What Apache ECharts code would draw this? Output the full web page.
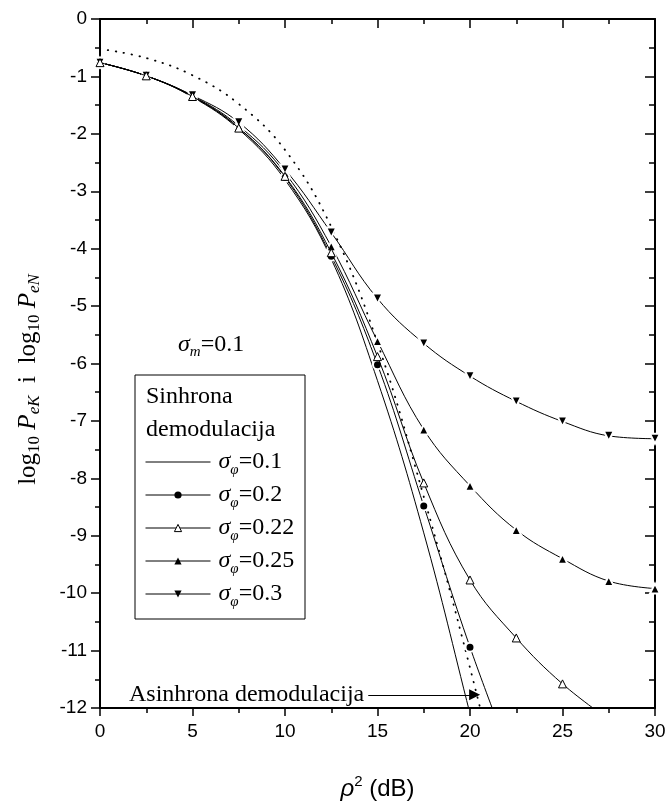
<!DOCTYPE html>
<html>
<head>
<meta charset="utf-8">
<script src="https://cdn.jsdelivr.net/npm/echarts@6/dist/echarts.min.js"></script>
<style>
  html, body { margin: 0; padding: 0; background: #fff; }
  #chart { width: 669px; height: 803px; }
</style>
</head>
<body>
<div id="chart"></div>
<script>
// rho^2 (dB)
const xValues = [0, 2.5, 5, 7.5, 10, 12.5, 15, 17.5, 20, 22.5, 25, 27.5, 30]

// log10 PeK, sinhrona demodulacija
const sigma01 = [-0.76, -0.99, -1.36, -1.92, -2.80, -4.18, -6.30, -8.95, -12.1, -15.3]
const sigma02 = [-0.76, -0.99, -1.35, -1.89, -2.76, -4.13, -6.02, -8.48, -10.94, -13.1]
const sigma022 = [-0.76, -0.99, -1.35, -1.90, -2.74, -4.07, -5.88, -8.08, -9.77, -10.78, -11.58, -12.2]
const sigma025 = [-0.76, -0.99, -1.34, -1.86, -2.68, -3.96, -5.61, -7.15, -8.13, -8.90, -9.40, -9.79, -9.92]
const sigma03 = [-0.76, -0.99, -1.33, -1.80, -2.62, -3.72, -4.87, -5.65, -6.22, -6.66, -7.01, -7.26, -7.31]

// log10 PeN, asinhrona demodulacija
const asinhrona = [-0.52, -0.68, -0.98, -1.48, -2.28, -3.62, -5.64, -8.32, -11.3, -14.6]

const yMin = -12

const serif = 'Liberation Serif'
const sans = 'Liberation Sans'

// points below the axis get no marker
function toPairs(values) {
  return values.map((v, i) =>
    v < yMin ? { value: [xValues[i], v], symbol: 'none' } : [xValues[i], v]
  )
}

const chart = echarts.init(document.getElementById('chart'))

const axisLine = { onZero: false, lineStyle: { color: '#000', width: 2 } }

const sub = { fontFamily: serif, fontStyle: 'italic', fontSize: 15, lineHeight: 12, verticalAlign: 'bottom', color: '#000' }

function lineSeries(name, values, symbol, extra) {
  return Object.assign({
    name: name,
    type: 'line',
    smooth: 0.4,
    data: toPairs(values),
    symbol: symbol,
    symbolSize: 9,
    showAllSymbol: true,
    lineStyle: { color: '#000', width: 1 },
    itemStyle: { color: '#000', borderColor: '#fff', borderWidth: 2 },
    emphasis: { disabled: true },
    z: 3
  }, extra || {})
}

const filledIcon = { color: '#000', borderWidth: 0 }

const options = {
  animation: false,
  backgroundColor: '#fff',
  grid: {
    left: 100,
    right: 14,
    top: 19,
    bottom: 95,
    outerBoundsMode: 'none'
  },
  xAxis: [
    {
      type: 'value',
      position: 'bottom',
      min: 0,
      max: 30,
      interval: 5,
      axisLine: axisLine,
      axisTick: { length: 8, lineStyle: { color: '#000', width: 1.5 } },
      minorTick: { show: true, splitNumber: 2, length: 5, lineStyle: { color: '#000', width: 1.5 } },
      splitLine: { show: false },
      axisLabel: { color: '#000', fontFamily: sans, fontSize: 19, margin: 14 },
      name: '{r|ρ}{sup|2}{t| (dB)}',
      nameLocation: 'middle',
      nameGap: 66,
      nameTextStyle: {
        rich: {
          r: { fontFamily: sans, fontStyle: 'italic', fontSize: 24, lineHeight: 30, color: '#000' },
          sup: { fontFamily: sans, fontSize: 15, lineHeight: 12, verticalAlign: 'top', color: '#000' },
          t: { fontFamily: sans, fontSize: 24, lineHeight: 30, color: '#000' }
        }
      }
    },
    {
      type: 'value',
      position: 'top',
      min: 0,
      max: 30,
      interval: 5,
      axisLine: axisLine,
      axisTick: { inside: true, length: 9, lineStyle: { color: '#000', width: 1.5 } },
      minorTick: { show: true, splitNumber: 2, length: 5, lineStyle: { color: '#000', width: 1.5 } },
      splitLine: { show: false },
      axisLabel: { show: false }
    }
  ],
  yAxis: [
    {
      type: 'value',
      position: 'left',
      min: -12,
      max: 0,
      interval: 1,
      axisLine: axisLine,
      axisTick: { length: 9, lineStyle: { color: '#000', width: 1.5 } },
      minorTick: { show: true, splitNumber: 2, length: 5, lineStyle: { color: '#000', width: 1.5 } },
      splitLine: { show: false },
      axisLabel: { color: '#000', fontFamily: sans, fontSize: 19, margin: 13 },
      name: '{n|log}{s|10}{n| }{p|P}{si|eK}{n|  i  log}{s|10}{n| }{p|P}{si|eN}',
      nameLocation: 'middle',
      nameGap: 57,
      nameTextStyle: {
        padding: [0, 32, 0, 0],
        rich: {
          n: { fontFamily: serif, fontSize: 25, lineHeight: 30, color: '#000' },
          p: { fontFamily: serif, fontStyle: 'italic', fontSize: 25, lineHeight: 30, color: '#000' },
          s: { fontFamily: serif, fontSize: 17, lineHeight: 10, verticalAlign: 'bottom', color: '#000' },
          si: { fontFamily: serif, fontStyle: 'italic', fontSize: 17, lineHeight: 10, verticalAlign: 'bottom', color: '#000' }
        }
      }
    },
    {
      type: 'value',
      position: 'right',
      min: -12,
      max: 0,
      interval: 1,
      axisLine: axisLine,
      axisTick: { inside: true, length: 10, lineStyle: { color: '#000', width: 1.5 } },
      minorTick: { show: true, splitNumber: 2, length: 6, lineStyle: { color: '#000', width: 1.5 } },
      splitLine: { show: false },
      axisLabel: { show: false }
    }
  ],
  legend: {
    orient: 'vertical',
    left: 145,
    top: 450,
    padding: 0,
    itemGap: 5,
    itemWidth: 65,
    itemHeight: 9,
    selectedMode: false,
    z: 20,
    lineStyle: { width: 1 },
    data: [
      { name: '0.1', itemStyle: { color: 'rgba(0,0,0,0)', borderWidth: 0 } },
      { name: '0.2', itemStyle: filledIcon },
      { name: '0.22', itemStyle: { color: '#fff', borderColor: '#000', borderWidth: 1 } },
      { name: '0.25', itemStyle: filledIcon },
      { name: '0.3', itemStyle: filledIcon }
    ],
    formatter: (name) => `{g|σ}{s|φ}{n|=${name}}`,
    textStyle: {
      color: '#000',
      rich: {
        g: { fontFamily: serif, fontStyle: 'italic', fontSize: 24, lineHeight: 32, padding: [0, 0, 0, 3], color: '#000' },
        s: sub,
        n: { fontFamily: serif, fontSize: 24, lineHeight: 32, color: '#000' }
      }
    }
  },
  graphic: [
    {
      type: 'rect',
      shape: { x: 135, y: 375, width: 170, height: 244 },
      style: { fill: '#fff', stroke: '#000', lineWidth: 1 },
      z: 10
    },
    {
      type: 'text',
      x: 146,
      y: 397,
      style: { text: 'Sinhrona', font: '24px "Liberation Serif"', fill: '#000', verticalAlign: 'middle' },
      z: 11
    },
    {
      type: 'text',
      x: 146,
      y: 430,
      style: { text: 'demodulacija', font: '24px "Liberation Serif"', fill: '#000', verticalAlign: 'middle' },
      z: 11
    },
    {
      type: 'text',
      x: 178,
      y: 345,
      style: {
        text: '{g|σ}{s|m}{n|=0.1}',
        verticalAlign: 'middle',
        rich: {
          g: { fontFamily: serif, fontStyle: 'italic', fontSize: 24, lineHeight: 30, fill: '#000' },
          s: { fontFamily: serif, fontStyle: 'italic', fontSize: 15, lineHeight: 12, verticalAlign: 'bottom', fill: '#000' },
          n: { fontFamily: serif, fontSize: 24, lineHeight: 30, fill: '#000' }
        }
      },
      z: 11
    }
  ],
  series: [
    {
      name: 'Asinhrona',
      type: 'line',
      smooth: 0.4,
      data: toPairs(asinhrona),
      symbol: 'none',
      lineStyle: { color: '#000', width: 1.8, type: [0.5, 7.5], cap: 'round' },
      emphasis: { disabled: true },
      markLine: {
        silent: true,
        symbol: ['none', 'triangle'],
        symbolSize: 11,
        lineStyle: { color: '#000', width: 1, type: 'solid', cap: 'butt' },
        itemStyle: { color: '#000' },
        label: {
          show: true,
          position: 'start',
          distance: 4,
          formatter: 'Asinhrona demodulacija',
          color: '#000',
          fontFamily: serif,
          fontSize: 24
        },
        data: [[{ coord: [14.5, -11.77] }, { coord: [20.25, -11.77] }]]
      }
    },
    lineSeries('0.1', sigma01, 'none'),
    lineSeries('0.2', sigma02, 'circle', { symbolSize: 9 }),
    lineSeries('0.25', sigma025, 'triangle', { symbolSize: 10 }),
    lineSeries('0.3', sigma03, 'triangle', { symbolSize: 10, symbolRotate: 180 }),
    lineSeries('0.22', sigma022, 'triangle', {
      itemStyle: { color: '#fff', borderColor: '#000', borderWidth: 1 },
      symbolSize: 8,
      z: 5
    })
  ]
}

chart.setOption(options)
</script>
</body>
</html>
